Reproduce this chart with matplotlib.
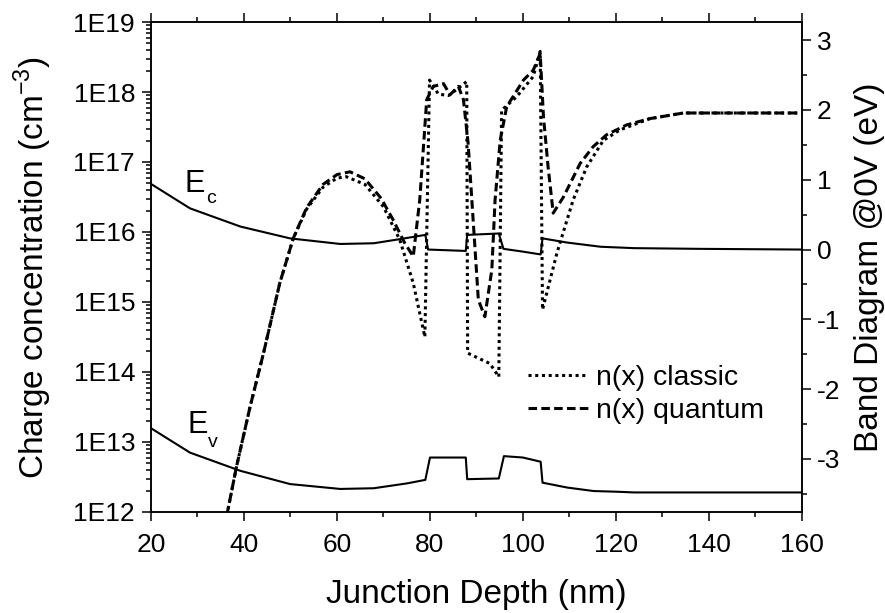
import numpy as np
import matplotlib
matplotlib.use("Agg")
import matplotlib.pyplot as plt
from matplotlib.ticker import FuncFormatter, LogLocator, MultipleLocator, NullFormatter

plt.rcParams['font.family'] = 'Liberation Sans'
plt.rcParams['mathtext.fontset'] = 'custom'
plt.rcParams['mathtext.rm'] = 'Liberation Sans'
plt.rcParams['axes.unicode_minus'] = False

# band edges (eV)
x_ec = [20, 28.4, 39.2, 49.9, 60.7, 67.9, 73.6, 79.0, 79.6, 87.7, 88.0, 94.8, 95.8, 100.0,
        103.8, 104.2, 109.5, 116.7, 123.9, 138.0, 160]
ec = [0.94, 0.59, 0.33, 0.16, 0.08, 0.09, 0.15, 0.21, 0.00, -0.02, 0.21, 0.23, 0.01, -0.03,
      -0.07, 0.16, 0.10, 0.04, 0.02, 0.01, 0.00]

x_ev = [20, 28.4, 39.2, 49.9, 60.7, 67.9, 75.1, 79.0, 80.0, 87.7, 88.0, 94.8, 95.9, 100.0,
        103.8, 104.2, 109.5, 115.2, 120.3, 123.9, 160]
ev = [-2.56, -2.91, -3.17, -3.36, -3.43, -3.42, -3.35, -3.30, -2.98, -2.98, -3.29, -3.28, -2.96,
      -2.98, -3.04, -3.34, -3.41, -3.46, -3.47, -3.48, -3.48]

# electron concentration, log10(cm^-3)
x_classic = [36.3, 38.4, 41.3, 44.2, 47.7, 50.6, 53.5, 57.0, 60.0, 62.0, 66.0, 70.0, 73.5, 76.4,
             78.9, 79.9, 81.8, 84.0, 86.0, 87.9, 88.1, 92.9, 94.8, 95.4, 98.6, 102.2, 103.7,
             104.2, 107.3, 110.8, 113.7, 117.3, 120.9, 127.3, 134.5, 160]
log_classic = [11.95, 12.65, 13.5, 14.27, 15.27, 15.91, 16.33, 16.64, 16.77, 16.79, 16.68, 16.36,
               15.89, 15.27, 14.50, 18.17, 17.97, 17.95, 18.05, 18.15, 14.27, 14.12, 13.93,
               17.74, 17.93, 18.22, 18.58, 14.89, 15.7, 16.46, 16.93, 17.31, 17.46, 17.62,
               17.70, 17.70]

x_quantum = [36.3, 38.4, 41.3, 44.2, 47.7, 50.6, 53.5, 57.0, 60.0, 62.8, 66.0, 69.5, 72.1, 74.5,
             76.4, 77.8, 79.3, 80.7, 82.9, 84.3, 86.1, 87.2, 88.2, 89.0, 90.4, 91.8, 93.3, 94.0,
             95.1, 96.5, 100.1, 102.2, 103.7, 104.4, 105.4, 106.5, 108.7, 112.3, 115.1, 118.0,
             122.3, 127.3, 134.5, 160]
log_quantum = [11.95, 12.65, 13.5, 14.27, 15.27, 15.91, 16.35, 16.68, 16.82, 16.86, 16.76, 16.48,
               16.17, 15.85, 15.65, 16.46, 17.89, 18.08, 18.12, 17.96, 18.08, 17.89, 17.27,
               16.46, 15.03, 14.79, 15.46, 16.46, 17.31, 17.79, 18.17, 18.31, 18.55, 17.65,
               16.93, 16.27, 16.5, 16.98, 17.22, 17.39, 17.53, 17.62, 17.70, 17.70]

fig = plt.figure(figsize=(8.85, 6.13), dpi=100)
ax = fig.add_axes([0.1706, 0.1648, 0.7356, 0.7993])

ax.plot(x_classic, 10 ** np.array(log_classic), color='k', lw=2.2, dashes=(1, 1.2),
        label='n(x) classic')
ax.plot(x_quantum, 10 ** np.array(log_quantum), color='k', lw=2.2, dashes=(2.8, 1.4),
        label='n(x) quantum')

ax.set_yscale('log')
ax.set_xlim(20, 160)
ax.set_ylim(1e12, 1e19)
ax.xaxis.set_major_locator(MultipleLocator(20))
ax.xaxis.set_minor_locator(MultipleLocator(10))
ax.yaxis.set_major_locator(LogLocator(base=10, numticks=20))
ax.yaxis.set_minor_locator(LogLocator(base=10, subs=np.arange(2, 10), numticks=20))
ax.yaxis.set_major_formatter(FuncFormatter(lambda v, p: "1E%d" % round(np.log10(v))))
ax.yaxis.set_minor_formatter(NullFormatter())
ax.tick_params(which='both', direction='out', top=True, width=1.1, labelsize=19)
ax.tick_params(which='major', length=6.5, pad=5)
ax.tick_params(axis='x', which='major', pad=8.5)
ax.tick_params(which='minor', length=3.6)
for s in ax.spines.values():
    s.set_linewidth(1.1)

ax.set_xlabel('Junction Depth (nm)', fontsize=24, labelpad=16)
ax.set_ylabel(r'Charge concentration (cm$^{\mathregular{-3}}$)', fontsize=24, labelpad=14)

ax.legend(loc='upper left', bbox_to_anchor=(0.579, 0.300), frameon=False, fontsize=20.5,
          borderaxespad=0, borderpad=0, handlelength=2.1, handletextpad=0.3, labelspacing=0.25)

ax2 = ax.twinx()
ax2.plot(x_ec, ec, color='k', lw=1.5)
ax2.plot(x_ev, ev, color='k', lw=1.5)
ax2.set_ylim(-3.76, 3.26)
ax2.yaxis.set_major_locator(MultipleLocator(1))
ax2.yaxis.set_minor_locator(MultipleLocator(0.5))
ax2.tick_params(which='both', direction='out', width=1.1, labelsize=19)
ax2.tick_params(which='major', length=6.5, pad=4)
ax2.tick_params(which='minor', length=3.6)
for s in ax2.spines.values():
    s.set_linewidth(1.1)
ax2.set_ylabel('Band Diagram @0V (eV)', fontsize=24, labelpad=10)

ax2.text(0.052, 0.653, 'E', transform=ax2.transAxes, fontsize=22)
ax2.text(0.0845, 0.631, 'c', transform=ax2.transAxes, fontsize=14)
ax2.text(0.0568, 0.161, 'E', transform=ax2.transAxes, fontsize=22)
ax2.text(0.0876, 0.133, 'v', transform=ax2.transAxes, fontsize=14)

fig.savefig('out.png', dpi=100)
